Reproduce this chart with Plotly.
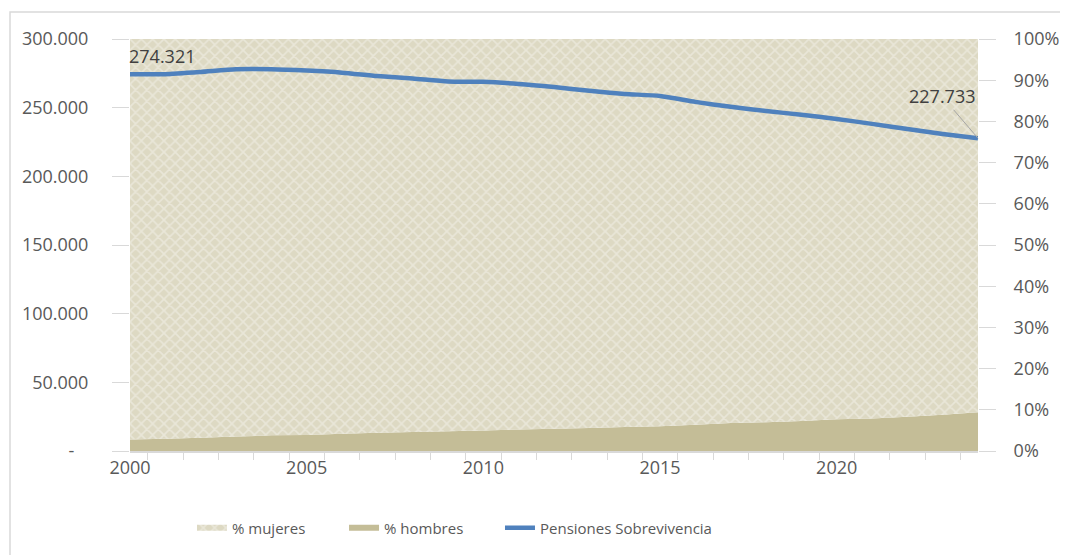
import plotly.graph_objects as go

# Datos
anios = list(range(2000, 2025))
pct_hombres = [2.8, 3.0, 3.2, 3.5, 3.8, 3.9, 4.2, 4.4, 4.6, 4.8, 5.0, 5.2, 5.4,
               5.6, 5.8, 6.0, 6.4, 6.8, 7.0, 7.3, 7.7, 7.9, 8.3, 8.8, 9.4]
pct_mujeres = [round(100 - h, 1) for h in pct_hombres]
pensiones = [274321, 274400, 276000, 278000, 278000, 277000, 275500, 273000, 271200,
             269000, 268800, 267300, 265000, 262300, 260000, 258500, 254200, 250600,
             247600, 244800, 241800, 238200, 234400, 230800, 227733]

left_tickvals = [0, 50000, 100000, 150000, 200000, 250000, 300000]
left_ticktext = ["-\u00a0\u00a0\u00a0", "50.000", "100.000", "150.000", "200.000", "250.000", "300.000"]
year_ticks = [2000, 2005, 2010, 2015, 2020]

GREY = "#D9D9D9"
TXT = "#595959"
FONT = "Open Sans"

fig = go.Figure()

# areas on primary (right) axis, line on overlaid left axis so it's drawn on top
fig.add_trace(go.Scatter(
    x=anios, y=pct_hombres, name="% hombres", stackgroup="pct", mode="none",
    fillcolor="#C4BD97", legend="legend2", hoverinfo="skip"))
fig.add_trace(go.Scatter(
    x=anios, y=pct_mujeres, name="% mujeres", stackgroup="pct", mode="none",
    fillcolor="#DDD9C3",
    fillpattern=dict(shape="x", bgcolor="#DDD9C3", fgcolor="#F6F4EE", size=8, solidity=0.35),
    legend="legend", hoverinfo="skip"))
fig.add_trace(go.Scatter(
    x=anios, y=pensiones, name="Pensiones Sobrevivencia", yaxis="y2", mode="lines",
    line=dict(color="#4F81BD", width=4.5, shape="spline", smoothing=0.6), legend="legend3"))

fig.add_annotation(x=anios[0], y=pensiones[0], yref="y2", text=f"{pensiones[0]:,}".replace(",", "."),
                   showarrow=False, xanchor="left", yanchor="bottom", xshift=-3, yshift=4,
                   font=dict(family=FONT, size=18, color="#404040"))
fig.add_annotation(x=anios[-1], y=pensiones[-1], yref="y2", text=f"{pensiones[-1]:,}".replace(",", "."),
                   showarrow=True, arrowhead=0, arrowwidth=1, arrowcolor="#A6A6A6",
                   ax=-36, ay=-42, font=dict(family=FONT, size=18, color="#404040"))

# title, mostly cut off above the picture
fig.add_annotation(x=0.422, y=1.085, xref="paper", yref="paper", xanchor="left", yanchor="bottom",
                   text="Distribución por sexo de pensiones de sobrevivencia", showarrow=False,
                   font=dict(family=FONT, size=20, color="#4472C4"))

# outer chart border
fig.add_shape(type="rect", xref="paper", yref="paper", x0=-0.1415, x1=1.3, y0=-0.6, y1=1.0655,
              line=dict(color=GREY, width=1.5), fillcolor="rgba(0,0,0,0)", layer="below")

leg = dict(orientation="h", y=-0.187, xanchor="left", yanchor="middle",
           font=dict(family=FONT, size=15, color=TXT), bgcolor="rgba(0,0,0,0)")

fig.update_layout(
    width=1068, height=555,
    margin=dict(l=122, r=98, t=31, b=112),
    paper_bgcolor="white", plot_bgcolor="white",
    separators=",.",
    font=dict(family=FONT, size=18, color=TXT),
    showlegend=True,
    legend=dict(leg, x=0.0731),
    legend2=dict(leg, x=0.2524),
    legend3=dict(leg, x=0.4363),
    xaxis=dict(range=[2000, 2024], tickvals=year_ticks, ticks="", showgrid=False,
               showline=True, linecolor=GREY, linewidth=1.5,
               minor=dict(ticks="outside", tick0=2000.5, dtick=1, ticklen=7, tickcolor=GREY, showgrid=False),
               tickfont=dict(size=18)),
    yaxis=dict(side="right", range=[0, 100], dtick=10, ticksuffix="%", showgrid=False, zeroline=False,
               ticks="outside", ticklen=17, tickcolor=GREY, ticklabelstandoff=14, tickfont=dict(size=18)),
    yaxis2=dict(side="left", overlaying="y", range=[0, 300000], tickvals=left_tickvals,
                ticktext=left_ticktext, showgrid=False, zeroline=False,
                ticks="outside", ticklen=17, tickcolor=GREY, ticklabelstandoff=20, tickfont=dict(size=18)),
)

fig.write_html("out.html")
